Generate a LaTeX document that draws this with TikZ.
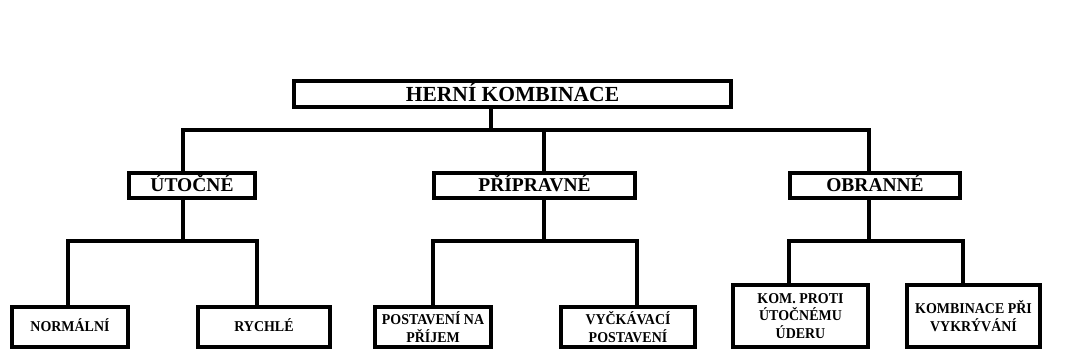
\documentclass[tikz,border=0pt]{standalone}
\usepackage{fontspec}
\setmainfont{Liberation Serif}
\newfontfamily\leaffont[FakeStretch=0.93]{Liberation Serif}
\usepackage{tikz}
\usetikzlibrary{positioning}

\tikzset{
  box/.style={draw, line width=4pt, inner sep=0pt, align=center},
  topbox/.style={box, font=\fontsize{21.5}{24}\selectfont\bfseries, text height=14pt, text depth=0pt},
  midbox/.style={box, minimum height=25pt, font=\fontsize{19.5}{22}\selectfont\bfseries, text height=12.9pt, text depth=0pt},
  leaf/.style={box, minimum height=40pt, font=\leaffont\fontsize{15}{17.6}\selectfont\bfseries},
  link/.style={line width=3.2pt},
}

\begin{document}
\begin{tikzpicture}[x=1pt, y=-1pt]
  \useasboundingbox (0,0) rectangle (1074,362);

  \node [topbox, minimum width=437pt, minimum height=26pt] (ihra) at (512.5,94) {HERNÍ KOMBINACE};

  \node [midbox, minimum width=126pt] (iutoc) at (192,185.5) {ÚTOČNÉ};
  \node [midbox, minimum width=201pt] (iprip) at (534.5,185.5) {PŘÍPRAVNÉ};
  \node [midbox, minimum width=170pt] (iobr) at (875,185.5) {OBRANNÉ};

  \node [leaf, minimum width=116pt, text height=9.9pt, text depth=0pt] (inorm) at (70,327) {NORMÁLNÍ};
  \node [leaf, minimum width=132pt, text height=9.9pt, text depth=0pt] (irych) at (264,327) {RYCHLÉ};
  \node [leaf, minimum width=116pt] (ipost) at (433,327) {POSTAVENÍ NA\\PŘÍJEM};
  \node [leaf, minimum width=134pt] (ivyck) at (628,327) {VYČKÁVACÍ\\POSTAVENÍ};
  \node [leaf, minimum width=135pt, minimum height=62pt] (ikom) at (800.5,316) {KOM. PROTI\\ÚTOČNÉMU\\ÚDERU};
  \node [leaf, minimum width=133pt, minimum height=62pt] (ivykr) at (973.5,316) {KOMBINACE PŘI\\VYKRÝVÁNÍ};

  \coordinate (j0) at (491,130);
  \coordinate (j1) at (183,130);
  \coordinate (j2) at (544,130);
  \coordinate (j3) at (869,130);
  \coordinate (k1) at (183,241);
  \coordinate (k2) at (544,241);
  \coordinate (k3) at (869,241);

  \draw [link] (ihra.south -| j0) -- (j0);
  \draw [link] (iutoc.north -| j1) |- (j3) -- (iobr.north -| j3);
  \draw [link] (j2) -- (iprip.north -| j2);

  \draw [link] (iutoc.south -| j1) -- (k1);
  \draw [link] ([xshift=-2pt]inorm.north) |- (k1) -| ([xshift=-7pt]irych.north);
  \draw [link] (iprip.south -| j2) -- (k2);
  \draw [link] (ipost.north) |- (k2) -| ([xshift=9pt]ivyck.north);
  \draw [link] (iobr.south -| j3) -- (k3);
  \draw [link] ([xshift=-11.5pt]ikom.north) |- (k3) -| ([xshift=-10.5pt]ivykr.north);
\end{tikzpicture}
\end{document}
